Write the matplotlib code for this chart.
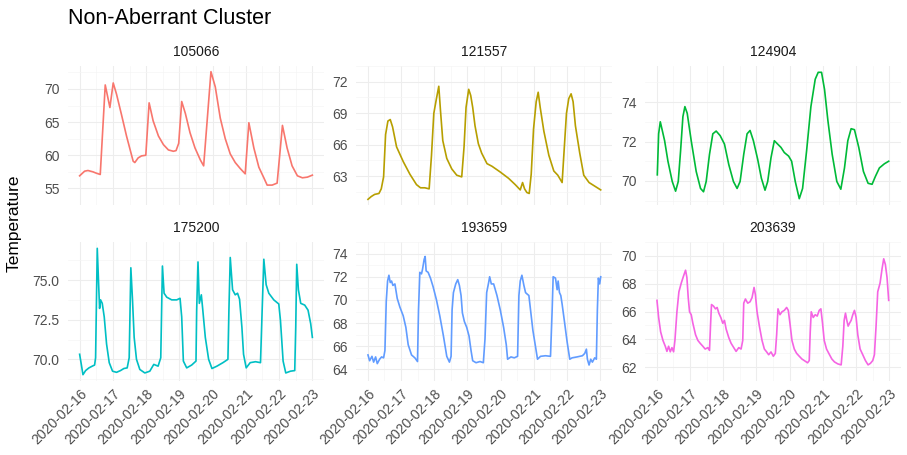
import numpy as np
import pandas as pd
import matplotlib
matplotlib.use('Agg')
import matplotlib.pyplot as plt

plt.rcParams['font.family'] = ['Liberation Sans', 'DejaVu Sans']

START = pd.Timestamp('2020-02-16')
DAY_LABELS = ['2020-02-16', '2020-02-17', '2020-02-18', '2020-02-19',
              '2020-02-20', '2020-02-21', '2020-02-22', '2020-02-23']

# readings per sensor: time in days since 2020-02-16 00:00, temperature
t_105066 = [0.0, 0.15, 0.25, 0.4, 0.5, 0.62, 0.77, 0.91, 1.01, 1.11, 1.26, 1.41, 1.61, 1.66, 1.76,
            1.86, 1.99, 2.09, 2.21, 2.37, 2.52, 2.67, 2.82, 2.9, 2.98, 3.07, 3.18, 3.32, 3.47,
            3.63, 3.73, 3.95, 4.08, 4.23, 4.38, 4.53, 4.68, 4.83, 4.98, 5.09, 5.24, 5.39, 5.54,
            5.64, 5.79, 5.94, 6.1, 6.24, 6.39, 6.55, 6.7, 6.85, 7.0]
temp_105066 = [56.9, 57.6, 57.7, 57.5, 57.3, 57.1, 70.6, 67.2, 70.9, 69.2, 66.1, 62.9, 59.1, 58.9,
               59.6, 59.9, 60.0, 67.9, 65.2, 62.9, 61.6, 60.8, 60.6, 60.7, 61.8, 68.1, 66.3, 63.4,
               61.1, 59.3, 58.4, 72.6, 70.3, 65.6, 62.5, 60.2, 58.9, 58.0, 57.2, 64.9, 61.1, 58.2,
               56.6, 55.5, 55.5, 55.8, 64.5, 61.1, 58.4, 56.9, 56.6, 56.7, 57.0]

t_121557 = [0.01, 0.11, 0.21, 0.34, 0.41, 0.48, 0.54, 0.61, 0.68, 0.75, 0.87, 1.07, 1.27, 1.47,
            1.59, 1.72, 1.85, 1.92, 1.99, 2.07, 2.14, 2.19, 2.26, 2.38, 2.53, 2.68, 2.83, 2.9,
            2.96, 3.04, 3.1, 3.16, 3.23, 3.33, 3.43, 3.59, 3.74, 3.99, 4.24, 4.44, 4.59, 4.66,
            4.72, 4.79, 4.86, 4.92, 4.99, 5.07, 5.13, 5.19, 5.3, 5.45, 5.6, 5.72, 5.85, 5.9,
            5.98, 6.05, 6.12, 6.18, 6.25, 6.38, 6.5, 6.66, 6.81, 6.96, 7.01]
temp_121557 = [60.8, 61.07, 61.27, 61.36, 61.8, 62.94, 66.97, 68.26, 68.4, 67.7, 65.8, 64.4, 63.2,
               62.2, 61.9, 61.9, 61.8, 64.96, 68.98, 70.4, 71.57, 69.3, 66.4, 64.7, 63.7, 63.1,
               62.94, 65.8, 69.56, 71.28, 70.7, 69.56, 67.8, 66.1, 65.2, 64.2, 63.95, 63.4, 62.8,
               62.2, 61.7, 62.4, 61.8, 61.45, 61.36, 63.2, 67.5, 70.1, 71.0, 69.56, 67.3, 65.0,
               63.5, 63.1, 62.4, 64.96, 68.98, 70.4, 70.85, 70.1, 67.8, 65.2, 63.1, 62.4, 62.1,
               61.8, 61.7]

t_124904 = [0.02, 0.06, 0.11, 0.17, 0.24, 0.34, 0.47, 0.57, 0.65, 0.72, 0.79, 0.85, 0.92, 1.04,
            1.19, 1.32, 1.41, 1.49, 1.59, 1.69, 1.79, 1.91, 2.04, 2.17, 2.31, 2.42, 2.51, 2.62,
            2.72, 2.81, 2.91, 3.04, 3.15, 3.26, 3.34, 3.44, 3.54, 3.64, 3.74, 3.84, 3.97, 4.06,
            4.17, 4.29, 4.39, 4.51, 4.64, 4.77, 4.86, 4.96, 5.05, 5.15, 5.28, 5.42, 5.54, 5.65,
            5.75, 5.85, 5.95, 6.08, 6.22, 6.36, 6.48, 6.58, 6.7, 6.85, 6.98]
temp_124904 = [70.31, 72.39, 73.0, 72.56, 72.04, 71.0, 69.97, 69.48, 69.97, 71.52, 73.26, 73.77,
               73.43, 72.04, 70.48, 69.62, 69.45, 69.97, 71.35, 72.39, 72.53, 72.3, 71.87, 70.83,
               69.97, 69.62, 69.97, 71.35, 72.39, 72.56, 72.04, 71.09, 70.14, 69.53, 69.97, 71.18,
               72.04, 71.87, 71.7, 71.44, 71.26, 71.0, 69.97, 69.1, 69.62, 71.52, 73.77, 75.16,
               75.51, 75.51, 74.64, 73.08, 71.35, 69.97, 69.58, 70.66, 72.04, 72.65, 72.6, 71.7,
               70.48, 69.88, 69.83, 70.23, 70.66, 70.87, 71.0]

t_175200 = [0.0, 0.05, 0.1, 0.18, 0.28, 0.38, 0.45, 0.48, 0.53, 0.57, 0.6, 0.63, 0.68, 0.74, 0.81,
            0.89, 0.99, 1.11, 1.23, 1.33, 1.43, 1.49, 1.54, 1.59, 1.64, 1.71, 1.81, 1.96, 2.11,
            2.23, 2.36, 2.44, 2.49, 2.54, 2.62, 2.77, 2.92, 3.02, 3.07, 3.12, 3.22, 3.37, 3.5,
            3.52, 3.56, 3.6, 3.66, 3.7, 3.78, 3.88, 3.98, 4.13, 4.31, 4.46, 4.49, 4.53, 4.6,
            4.68, 4.75, 4.81, 4.88, 4.93, 5.01, 5.13, 5.29, 5.44, 5.49, 5.54, 5.61, 5.69, 5.84,
            5.99, 6.04, 6.12, 6.2, 6.34, 6.47, 6.5, 6.53, 6.58, 6.65, 6.77, 6.87, 6.95, 7.0]
temp_175200 = [70.32, 69.68, 69.03, 69.29, 69.46, 69.57, 69.64, 70.1, 77.02, 74.83, 73.22, 73.76,
               73.54, 72.68, 70.97, 69.79, 69.25, 69.18, 69.29, 69.42, 69.46, 70.1, 75.79, 73.76,
               71.39, 70.0, 69.36, 69.14, 69.25, 69.68, 69.57, 70.1, 75.9, 74.18, 73.93, 73.76,
               73.76, 73.86, 72.68, 69.89, 69.46, 69.64, 69.89, 73.11, 76.16, 73.54, 74.08, 73.22,
               71.39, 70.0, 69.42, 69.57, 69.79, 70.0, 73.11, 76.44, 74.4, 74.08, 74.18, 73.8,
               72.04, 70.32, 69.46, 69.79, 69.85, 69.79, 73.11, 76.33, 74.72, 74.18, 73.76, 73.5,
               72.47, 69.89, 69.14, 69.25, 69.29, 72.04, 76.01, 74.4, 73.54, 73.43, 73.11, 72.25,
               71.39]

t_193659 = [0.01, 0.06, 0.13, 0.18, 0.24, 0.29, 0.36, 0.42, 0.48, 0.52, 0.56, 0.6, 0.64, 0.68,
            0.72, 0.76, 0.82, 0.89, 0.97, 1.07, 1.15, 1.22, 1.32, 1.42, 1.5, 1.53, 1.57, 1.62,
            1.65, 1.7, 1.73, 1.76, 1.82, 1.89, 1.97, 2.07, 2.17, 2.28, 2.38, 2.46, 2.51, 2.54,
            2.58, 2.65, 2.71, 2.76, 2.81, 2.85, 2.91, 2.98, 3.05, 3.11, 3.16, 3.26, 3.38, 3.48,
            3.53, 3.58, 3.64, 3.67, 3.72, 3.79, 3.89, 3.99, 4.09, 4.17, 4.21, 4.31, 4.41, 4.51,
            4.55, 4.59, 4.64, 4.7, 4.75, 4.8, 4.85, 4.9, 4.97, 5.04, 5.11, 5.2, 5.35, 5.5, 5.55,
            5.58, 5.65, 5.7, 5.73, 5.77, 5.81, 5.85, 5.92, 6.0, 6.08, 6.15, 6.3, 6.46, 6.53,
            6.58, 6.61, 6.66, 6.71, 6.76, 6.83, 6.88, 6.91, 6.94, 6.98, 7.01]
temp_193659 = [65.25, 64.75, 65.13, 64.63, 65.08, 64.5, 64.88, 65.08, 65.0, 65.63, 69.88, 71.63,
               72.13, 71.5, 71.63, 71.25, 71.38, 70.13, 69.38, 68.63, 67.63, 66.13, 65.25, 65.0,
               64.68, 69.13, 72.38, 72.25, 72.63, 73.5, 73.75, 72.5, 72.38, 71.88, 71.13, 70.0,
               68.63, 66.88, 65.13, 64.63, 65.13, 69.13, 70.63, 71.38, 71.75, 71.25, 70.38, 68.88,
               68.13, 67.63, 66.88, 65.63, 64.75, 64.58, 64.68, 64.58, 66.63, 70.63, 71.5, 72.0,
               71.38, 71.38, 70.38, 69.13, 67.63, 66.13, 64.88, 65.08, 65.0, 65.13, 70.38, 71.63,
               72.13, 71.25, 70.63, 70.5, 70.38, 69.13, 67.38, 66.13, 64.88, 65.13, 65.18, 65.13,
               69.13, 72.0, 71.88, 70.88, 71.63, 70.63, 70.38, 69.63, 68.13, 66.38, 64.88, 65.0,
               65.08, 65.18, 65.38, 65.75, 64.88, 64.38, 64.88, 64.63, 65.0, 64.88, 69.13, 71.88,
               71.38, 72.0]

t_203639 = [0.01, 0.06, 0.12, 0.19, 0.26, 0.31, 0.36, 0.41, 0.46, 0.51, 0.55, 0.61, 0.67, 0.74,
            0.81, 0.87, 0.91, 0.95, 0.99, 1.04, 1.09, 1.17, 1.24, 1.31, 1.39, 1.46, 1.54, 1.59,
            1.62, 1.65, 1.71, 1.77, 1.82, 1.87, 1.93, 1.99, 2.04, 2.09, 2.17, 2.24, 2.32, 2.39,
            2.47, 2.54, 2.59, 2.62, 2.67, 2.74, 2.81, 2.87, 2.93, 2.97, 3.02, 3.09, 3.17, 3.24,
            3.31, 3.37, 3.44, 3.51, 3.57, 3.61, 3.65, 3.71, 3.77, 3.84, 3.91, 3.96, 4.01, 4.07,
            4.14, 4.21, 4.29, 4.37, 4.44, 4.54, 4.59, 4.62, 4.65, 4.71, 4.77, 4.83, 4.89, 4.94,
            4.99, 5.04, 5.11, 5.2, 5.27, 5.35, 5.45, 5.55, 5.6, 5.64, 5.68, 5.72, 5.76, 5.8,
            5.85, 5.9, 5.95, 6.0, 6.05, 6.12, 6.2, 6.28, 6.36, 6.43, 6.5, 6.55, 6.6, 6.65, 6.72,
            6.78, 6.83, 6.88, 6.93, 6.98]
temp_203639 = [66.8, 65.57, 64.54, 63.92, 63.5, 63.13, 63.5, 63.1, 63.4, 63.1, 63.92, 65.98, 67.42,
               68.04, 68.56, 68.97, 68.45, 67.0, 65.98, 65.77, 65.15, 64.33, 63.92, 63.71, 63.5,
               63.3, 63.4, 63.2, 64.95, 66.5, 66.39, 66.19, 66.29, 65.88, 65.57, 65.15, 65.36,
               64.74, 64.12, 63.71, 63.4, 63.13, 63.4, 63.3, 63.92, 66.6, 66.9, 66.6, 66.7, 67.0,
               67.73, 67.22, 65.98, 64.95, 63.92, 63.3, 63.09, 62.89, 63.09, 62.78, 62.99, 64.33,
               66.19, 65.77, 65.98, 66.08, 66.29, 66.08, 65.15, 63.92, 63.3, 62.99, 62.78, 62.58,
               62.47, 62.31, 62.47, 64.54, 65.98, 65.57, 65.77, 65.67, 66.08, 66.19, 65.15, 63.92,
               63.3, 62.89, 62.58, 62.37, 62.23, 62.16, 63.5, 65.36, 65.88, 65.36, 64.95, 65.15,
               65.36, 65.77, 66.08, 65.57, 64.33, 63.3, 62.89, 62.47, 62.16, 62.27, 62.47, 62.89,
               64.95, 67.42, 68.04, 69.07, 69.79, 69.38, 68.45, 66.8]

SENSORS = ['105066', '121557', '124904', '175200', '193659', '203639']
SERIES = {
    '105066': (t_105066, temp_105066),
    '121557': (t_121557, temp_121557),
    '124904': (t_124904, temp_124904),
    '175200': (t_175200, temp_175200),
    '193659': (t_193659, temp_193659),
    '203639': (t_203639, temp_203639),
}
Y_TICKS = {
    '105066': [55, 60, 65, 70],
    '121557': [63, 66, 69, 72],
    '124904': [70, 72, 74],
    '175200': [70.0, 72.5, 75.0],
    '193659': [64, 66, 68, 70, 72, 74],
    '203639': [62, 64, 66, 68, 70],
}
COLORS = ['#F8766D', '#B79F00', '#00BA38', '#00BFC4', '#619CFF', '#F564E3']

W, H = 907, 455
PANEL_LEFT = [68, 356, 645]
PANEL_TOP = [66, 242]
PANEL_W, PANEL_H = 256, 139

fig = plt.figure(figsize=(W / 100, H / 100), dpi=100)
fig.patch.set_facecolor('white')

day_ticks = pd.to_datetime(DAY_LABELS)
half_days = day_ticks[:-1] + pd.Timedelta(hours=12)

for i, sensor in enumerate(SENSORS):
    row, col = divmod(i, 3)
    left, top = PANEL_LEFT[col], PANEL_TOP[row]
    ax = fig.add_axes([left / W, 1 - (top + PANEL_H) / H, PANEL_W / W, PANEL_H / H])

    days, temps = SERIES[sensor]
    times = START + pd.to_timedelta(np.array(days), unit='D')
    ax.plot(times, temps, color=COLORS[i], lw=1.2, zorder=3)

    # ggplot-style 5% expansion on both axes
    lo, hi = min(temps), max(temps)
    pad = 0.05 * (hi - lo)
    ax.set_ylim(lo - pad, hi + pad)
    x_pad = pd.Timedelta(days=0.05 * 7)
    ax.set_xlim(day_ticks[0] - x_pad, day_ticks[-1] + x_pad)

    yt = Y_TICKS[sensor]
    step = yt[1] - yt[0]
    ax.set_yticks(yt)
    if sensor == '175200':
        ax.set_yticklabels(['%.1f' % v for v in yt])
    ax.set_yticks([yt[0] - step / 2] + [v + step / 2 for v in yt], minor=True)
    ax.set_xticks(day_ticks)
    ax.set_xticks(half_days, minor=True)

    if row == 1:
        ax.set_xticklabels(DAY_LABELS, rotation=45, ha='right', va='top',
                           rotation_mode='anchor')
    else:
        ax.set_xticklabels([])

    ax.grid(True, which='major', color='#EDEDED', lw=0.8, zorder=0)
    ax.grid(True, which='minor', color='#F5F5F5', lw=0.5, zorder=0)
    ax.tick_params(which='both', length=0, labelsize=10, colors='#4D4D4D')
    ax.tick_params(axis='y', pad=6)
    ax.tick_params(axis='x', pad=4)
    for s in ax.spines.values():
        s.set_visible(False)
    ax.set_title(sensor, fontsize=10, color='#1A1A1A', pad=7)

fig.text(68 / W, 1 - 18 / H, 'Non-Aberrant Cluster', fontsize=15.5, ha='left', va='center')
fig.text(14 / W, 1 - 223 / H, 'Temperature', fontsize=12.5, rotation=90,
         ha='center', va='center')

fig.savefig('out.png', dpi=100, facecolor='white')
